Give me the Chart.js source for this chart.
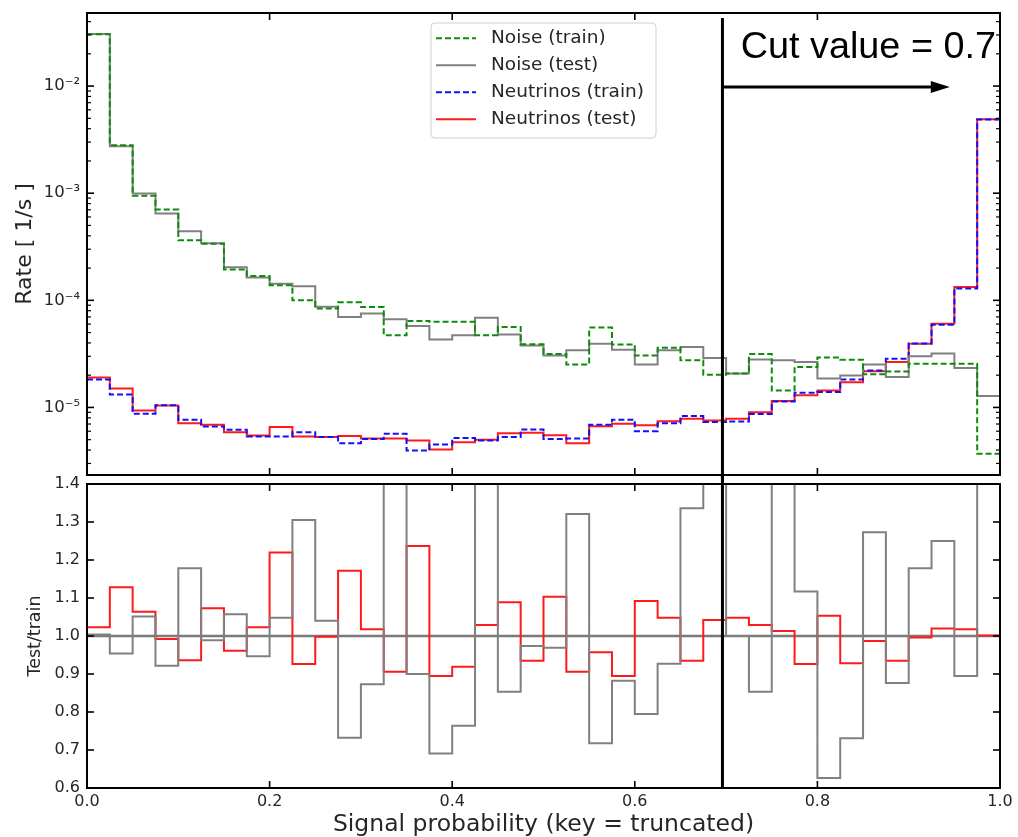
<!DOCTYPE html>
<html>
<head>
<meta charset="utf-8">
<script src="https://cdn.jsdelivr.net/npm/chart.js@4.4.1/dist/chart.umd.min.js"></script>
<style>
html,body{margin:0;padding:0;background:#fff;}
#wrap{position:relative;width:1018px;height:837px;overflow:hidden;background:#fff;}
canvas{position:absolute;left:0;}
#c1{top:0;}
#c2{top:465px;}
</style>
</head>
<body>
<div id="wrap">
<canvas id="c1" width="1018" height="480"></canvas>
<canvas id="c2" width="1018" height="372"></canvas>
</div>
<script>
// ---------- data ----------
const binEdges = [0.000,0.025,0.050,0.075,0.100,0.125,0.150,0.175,0.200,0.225,
                  0.250,0.275,0.300,0.325,0.350,0.375,0.400,0.425,0.450,0.475,
                  0.500,0.525,0.550,0.575,0.600,0.625,0.650,0.675,0.700,0.725,
                  0.750,0.775,0.800,0.825,0.850,0.875,0.900,0.925,0.950,0.975,1.000];

const noiseTrain = [3.05e-2,2.81e-3,9.44e-4,7.05e-4,3.64e-4,3.38e-4,1.94e-4,1.69e-4,1.38e-4,1.0e-4,
                    8.4e-5,9.57e-5,8.65e-5,4.71e-5,6.41e-5,6.3e-5,6.3e-5,4.71e-5,5.64e-5,3.89e-5,
                    3.15e-5,2.52e-5,5.56e-5,3.87e-5,3.06e-5,3.61e-5,2.75e-5,2.02e-5,2.07e-5,3.15e-5,
                    1.44e-5,2.39e-5,2.92e-5,2.79e-5,2.04e-5,2.17e-5,2.56e-5,2.56e-5,2.56e-5,3.69e-6];

const noiseTest  = [3.06e-2,2.75e-3,9.93e-4,6.46e-4,4.42e-4,3.41e-4,2.03e-4,1.63e-4,1.43e-4,1.35e-4,
                    8.7e-5,6.98e-5,7.52e-5,6.64e-5,5.75e-5,4.3e-5,4.71e-5,6.89e-5,4.8e-5,3.79e-5,
                    3.06e-5,3.41e-5,3.94e-5,3.46e-5,2.52e-5,3.41e-5,3.66e-5,2.89e-5,2.07e-5,2.8e-5,
                    2.75e-5,2.66e-5,1.86e-5,1.99e-5,2.52e-5,1.92e-5,3.0e-5,3.18e-5,2.33e-5,1.28e-5];

const nuTrain    = [1.82e-5,1.32e-5,8.72e-6,1.05e-5,7.67e-6,6.64e-6,6.19e-6,5.35e-6,5.35e-6,5.88e-6,
                    5.3e-6,4.63e-6,5.06e-6,5.68e-6,3.96e-6,4.5e-6,5.17e-6,4.92e-6,5.3e-6,6.22e-6,
                    5.06e-6,5.13e-6,6.9e-6,7.67e-6,6.0e-6,7.12e-6,8.3e-6,7.3e-6,7.4e-6,8.7e-6,
                    1.135e-5,1.37e-5,1.39e-5,1.82e-5,2.21e-5,2.85e-5,3.96e-5,5.9e-5,1.29e-4,4.88e-3];

const nuTest     = [1.9e-5,1.5e-5,9.37e-6,1.04e-5,7.12e-6,6.9e-6,5.88e-6,5.47e-6,6.55e-6,5.35e-6,
                    5.3e-6,5.4e-6,5.12e-6,5.12e-6,4.9e-6,4.05e-6,4.74e-6,5.0e-6,5.75e-6,5.8e-6,
                    5.5e-6,4.63e-6,6.68e-6,7.05e-6,6.8e-6,7.45e-6,7.83e-6,7.57e-6,7.83e-6,9.0e-6,
                    1.15e-5,1.3e-5,1.44e-5,1.72e-5,2.18e-5,2.65e-5,3.94e-5,6.05e-5,1.33e-4,4.89e-3];

const nuRatio    = [1.023,1.128,1.064,0.992,0.936,1.073,0.961,1.023,1.220,0.926,
                    0.998,1.172,1.018,0.906,1.237,0.895,0.919,1.029,1.089,0.935,
                    1.103,0.906,0.957,0.895,1.092,1.048,0.935,1.042,1.048,1.029,
                    1.013,0.926,1.053,0.928,0.987,0.935,0.996,1.020,1.018,1.001];

const noiseRatio = [1.004,0.954,1.051,0.922,1.178,0.989,1.057,0.947,1.048,1.305,
                    1.040,0.732,0.873,1.410,0.900,0.691,0.764,1.460,0.853,0.974,
                    0.969,1.321,0.718,0.882,0.795,0.927,1.336,1.430,1.000,0.853,
                    1.900,1.117,0.626,0.731,1.273,0.876,1.178,1.250,0.895,3.470];

const seriesLabels = ['Noise (train)','Noise (test)','Neutrinos (train)','Neutrinos (test)'];
const xTickValues = [0.0,0.2,0.4,0.6,0.8,1.0];
const xTickLabels = ['0.0','0.2','0.4','0.6','0.8','1.0'];
const rateTickValues = [1e-5,1e-4,1e-3,1e-2];
const rateTickLabels = ['10\u207B\u2075','10\u207B\u2074','10\u207B\u00B3','10\u207B\u00B2'];
const ratioTickValues = [0.6,0.7,0.8,0.9,1.0,1.1,1.2,1.3,1.4];
const ratioTickLabels = ['0.6','0.7','0.8','0.9','1.0','1.1','1.2','1.3','1.4'];
const cutValue = 0.696;
const cutLabel = 'Cut value = 0.7';
const xTitle = 'Signal probability (key = truncated)';
const yTitleTop = 'Rate [ 1/s ]';
const yTitleBottom = 'Test/train';

// ---------- helpers ----------
const FONT = "'DejaVu Sans', sans-serif";
const GREEN = '#0c8c0c', GRAY = '#808080', BLUE = '#1010ff', RED = '#ff1a1a';
function steps(vals){
  const pts = vals.map((v,i)=>({x:binEdges[i], y:v}));
  pts.push({x:binEdges[binEdges.length-1], y:vals[vals.length-1]});
  return pts;
}
const rateMin = 2.34e-6, rateMax = 0.0481;
const rateMinor = [];
for (let e=-6;e<=-2;e++){ for(let k=2;k<=9;k++){ const v=k*Math.pow(10,e); if(v>rateMin && v<rateMax) rateMinor.push(v);} }

function seg(ctx,x1,y1,x2,y2){ctx.beginPath();ctx.moveTo(x1,y1);ctx.lineTo(x2,y2);ctx.stroke();}

function drawFrame(chart, yMajor, yMinor){
  const {ctx, chartArea:a, scales} = chart;
  const xs = scales.x, ys = scales.y;
  ctx.save();
  ctx.strokeStyle = '#000';
  ctx.lineWidth = 2;
  ctx.strokeRect(a.left, a.top, a.right-a.left, a.bottom-a.top);
  ctx.lineWidth = 1.6;
  xTickValues.forEach(v=>{const p=xs.getPixelForValue(v); seg(ctx,p,a.top,p,a.top+7); seg(ctx,p,a.bottom,p,a.bottom-7);});
  yMajor.forEach(v=>{const p=ys.getPixelForValue(v); seg(ctx,a.left,p,a.left+7,p); seg(ctx,a.right,p,a.right-7,p);});
  ctx.lineWidth = 1.2;
  yMinor.forEach(v=>{const p=ys.getPixelForValue(v); seg(ctx,a.left,p,a.left+4,p); seg(ctx,a.right,p,a.right-4,p);});
  ctx.restore();
}

const topDecor = {
  id:'topDecor',
  afterDatasetsDraw(chart){
    const {ctx, chartArea:a, scales} = chart;
    const xs = scales.x, ys = scales.y;
    drawFrame(chart, rateTickValues, rateMinor);
    ctx.save();
    // cut line
    const cx = xs.getPixelForValue(cutValue);
    ctx.strokeStyle = '#000'; ctx.lineWidth = 3;
    seg(ctx, cx, a.top+5, cx, chart.height);
    // arrow
    const ay = ys.getPixelForValue(0.0098);
    const tip = xs.getPixelForValue(0.945);
    seg(ctx, cx, ay, tip-18, ay);
    ctx.fillStyle = '#000';
    ctx.beginPath(); ctx.moveTo(tip, ay); ctx.lineTo(tip-19, ay-6); ctx.lineTo(tip-19, ay+6); ctx.closePath(); ctx.fill();
    // cut text
    ctx.font = "37.8px 'Liberation Sans', Arial, sans-serif";
    ctx.textBaseline = 'middle'; ctx.textAlign = 'left';
    ctx.fillText(cutLabel, xs.getPixelForValue(0.716), ys.getPixelForValue(0.0228));
    // legend
    ctx.font = "18.5px " + FONT;
    const ds = chart.data.datasets;
    const tw = Math.max(...ds.map(d=>ctx.measureText(d.label).width));
    const bw = 5 + 40 + 15 + tw + 12, bh = 115;
    const bx = (a.left + a.right)/2 - bw/2, by = a.top + 10;
    ctx.beginPath();
    if (ctx.roundRect) ctx.roundRect(bx, by, bw, bh, 4); else ctx.rect(bx,by,bw,bh);
    ctx.fillStyle = 'rgba(255,255,255,0.85)'; ctx.fill();
    ctx.strokeStyle = '#d0d0d0'; ctx.lineWidth = 1; ctx.stroke();
    ds.forEach((d,i)=>{
      const cy = by + 15.3 + i*27;
      ctx.save();
      ctx.strokeStyle = d.borderColor; ctx.lineWidth = 2;
      ctx.setLineDash(d.borderDash || []);
      seg(ctx, bx+5, cy, bx+45, cy);
      ctx.restore();
      ctx.fillStyle = '#262626'; ctx.textBaseline = 'middle';
      ctx.fillText(d.label, bx+60, cy);
    });
    ctx.restore();
  }
};

const bottomDecor = {
  id:'bottomDecor',
  afterDatasetsDraw(chart){
    const {ctx, chartArea:a, scales} = chart;
    drawFrame(chart, ratioTickValues, []);
    ctx.save();
    const cx = scales.x.getPixelForValue(cutValue);
    ctx.strokeStyle = '#000'; ctx.lineWidth = 3;
    seg(ctx, cx, a.top-10, cx, a.bottom);
    ctx.restore();
  }
};

Chart.defaults.font.family = FONT;
Chart.defaults.color = '#262626';

// ---------- top panel ----------
new Chart(document.getElementById('c1'), {
  type:'line',
  data:{datasets:[
    {label:seriesLabels[0], data:steps(noiseTrain), borderColor:GREEN, borderDash:[6,3], borderWidth:2, stepped:'before', pointRadius:0, fill:false},
    {label:seriesLabels[1], data:steps(noiseTest),  borderColor:GRAY,  borderWidth:2, stepped:'before', pointRadius:0, fill:false},
    {label:seriesLabels[2], data:steps(nuTrain),    borderColor:BLUE,  borderDash:[6,3], borderWidth:2, stepped:'before', pointRadius:0, fill:false},
    {label:seriesLabels[3], data:steps(nuTest),     borderColor:RED,   borderWidth:2, stepped:'before', pointRadius:0, fill:false}
  ]},
  options:{
    responsive:false, animation:false, devicePixelRatio:1, events:[],
    layout:{padding:{top:13,right:18,bottom:5,left:0}},
    plugins:{legend:{display:false}, tooltip:{enabled:false}},
    scales:{
      x:{type:'linear', min:0, max:1, display:false},
      y:{type:'logarithmic', min:rateMin, max:rateMax,
         afterBuildTicks:s=>{s.ticks = rateTickValues.map(v=>({value:v}));},
         afterFit:s=>{s.width=87; s.paddingTop=0; s.paddingBottom=0;},
         grid:{display:false, drawTicks:false}, border:{display:false},
         ticks:{padding:7, autoSkip:false, color:'#262626', font:{family:FONT,size:16.5}, callback:(v,i)=>rateTickLabels[i]},
         title:{display:true, text:yTitleTop, color:'#262626', font:{family:FONT,size:22}, padding:{top:12,bottom:0}}
      }
    }
  },
  plugins:[topDecor]
});

// ---------- bottom panel ----------
new Chart(document.getElementById('c2'), {
  type:'line',
  data:{datasets:[
    {label:'noise ratio', data:steps(noiseRatio), borderColor:GRAY, borderWidth:2, stepped:'before', pointRadius:0, fill:false},
    {label:'neutrino ratio', data:steps(nuRatio), borderColor:RED, borderWidth:2, stepped:'before', pointRadius:0, fill:false},
    {label:'unity', data:[{x:binEdges[0],y:1},{x:binEdges[binEdges.length-1],y:1}], borderColor:'#7a7a7a', borderWidth:2.5, pointRadius:0, fill:false}
  ]},
  options:{
    responsive:false, animation:false, devicePixelRatio:1, events:[],
    layout:{padding:{top:19,right:18,bottom:0,left:0}},
    plugins:{legend:{display:false}, tooltip:{enabled:false}},
    scales:{
      x:{type:'linear', min:0, max:1,
         afterBuildTicks:s=>{s.ticks = xTickValues.map(v=>({value:v}));},
         afterFit:s=>{s.height=49; s.paddingLeft=0; s.paddingRight=0;},
         grid:{display:false, drawTicks:false}, border:{display:false},
         ticks:{padding:4, autoSkip:false, maxRotation:0, color:'#262626', font:{family:FONT,size:16}, callback:(v,i)=>xTickLabels[i]},
         title:{display:true, text:xTitle, color:'#262626', font:{family:FONT,size:23.5}, padding:{top:0,bottom:-2}}
      },
      y:{type:'linear', min:0.6, max:1.4,
         afterBuildTicks:s=>{s.ticks = ratioTickValues.map(v=>({value:v}));},
         afterFit:s=>{s.width=87; s.paddingTop=0; s.paddingBottom=0;},
         grid:{display:false, drawTicks:false}, border:{display:false},
         ticks:{padding:7, autoSkip:false, color:'#262626', font:{family:FONT,size:16}, callback:(v,i)=>ratioTickLabels[i]},
         title:{display:true, text:yTitleBottom, color:'#262626', font:{family:FONT,size:17.5}, padding:{top:24.5,bottom:0}}
      }
    }
  },
  plugins:[bottomDecor]
});
</script>
</body>
</html>
